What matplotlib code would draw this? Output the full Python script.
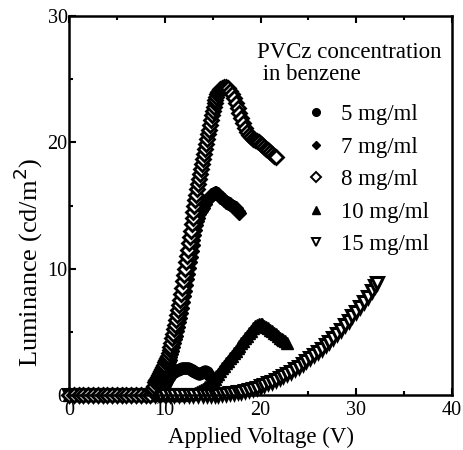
import matplotlib
matplotlib.use("Agg")
import matplotlib.pyplot as plt
from matplotlib.lines import Line2D

plt.rcParams['font.family'] = ['Liberation Serif', 'DejaVu Serif']

# ---------------- data ----------------
flat_v = [0.0, 0.5, 1.0, 1.5, 2.0, 2.5, 3.0, 3.5, 4.0, 4.5, 5.0, 5.5, 6.0, 6.5, 7.0, 7.5, 8.0, 8.5]
flat_l = [0.0, 0.0, 0.0, 0.0, 0.0, 0.0, 0.0, 0.0, 0.0, 0.0, 0.0, 0.0, 0.0, 0.0, 0.0, 0.0, 0.0, 0.0]

# 5 mg/ml (filled circles)
v5 = flat_v + [9.0, 9.5, 9.7, 9.8, 9.9, 10.0, 10.1, 10.2, 10.3, 10.4, 10.5, 10.6, 10.8, 11.0, 11.2,
               11.4, 11.6, 11.8, 12.0, 12.2, 12.4, 12.6, 12.8, 13.0, 13.2, 13.4, 13.6, 13.8, 14.0,
               14.2, 14.4, 14.6]
l5 = flat_l + [0.0, 0.05, 0.2, 0.4, 0.6, 0.8, 0.95, 1.1, 1.25, 1.4, 1.5, 1.6, 1.75, 1.85, 1.95,
               2.0, 2.05, 2.1, 2.15, 2.15, 2.1, 2.05, 2.0, 1.9, 1.8, 1.75, 1.7, 1.75, 1.85,
               1.9, 1.85, 1.6]

# 7 mg/ml (filled diamonds)
v7 = flat_v + [9.0, 9.1, 9.2, 9.3, 9.4, 9.5, 9.6, 9.7, 9.8, 9.9, 10.0, 10.1, 10.2, 10.3, 10.4,
               10.5, 10.6, 10.7, 10.8, 10.9, 11.0, 11.1, 11.2, 11.3, 11.4, 11.5, 11.6, 11.7, 11.8,
               11.9, 12.0, 12.1, 12.2, 12.3, 12.4, 12.5, 12.6, 12.7, 12.8, 12.9, 13.0, 13.1, 13.2,
               13.3, 13.4, 13.5, 13.6, 13.7, 13.8, 13.9, 14.0, 14.2, 14.4, 14.6, 14.8, 15.0, 15.2,
               15.4, 15.6, 15.8, 16.0, 16.2, 16.4, 16.6, 16.8, 17.0, 17.2, 17.4, 17.6, 17.8]
l7 = flat_l + [0.3, 0.45, 0.6, 0.8, 1.0, 1.15, 1.3, 1.45, 1.6, 1.75, 1.9, 2.1, 2.3, 2.45, 2.6,
               2.8, 3.0, 3.25, 3.5, 3.8, 4.1, 4.4, 4.7, 5.05, 5.4, 5.75, 6.1, 6.5, 6.9,
               7.35, 7.8, 8.25, 8.7, 9.15, 9.6, 10.05, 10.5, 10.95, 11.4, 11.85, 12.3, 12.7, 13.1,
               13.45, 13.8, 14.05, 14.3, 14.45, 14.6, 14.7, 14.8, 15.1, 15.4, 15.6, 15.8, 15.9, 16.0,
               16.0, 15.9, 15.7, 15.6, 15.4, 15.3, 15.2, 15.1, 15.0, 14.9, 14.8, 14.6, 14.4]

# 8 mg/ml (open diamonds)
v8 = flat_v + [8.7, 8.8, 8.9, 9.0, 9.1, 9.2, 9.3, 9.4, 9.5, 9.6, 9.7, 9.8, 9.9, 10.0, 10.1,
               10.2, 10.3, 10.4, 10.5, 10.6, 10.7, 10.8, 10.9, 11.0, 11.1, 11.2, 11.3, 11.4, 11.5,
               11.6, 11.7, 11.8, 11.9, 12.0, 12.1, 12.2, 12.3, 12.4, 12.5, 12.6, 12.7, 12.8, 12.9,
               13.0, 13.1, 13.2, 13.3, 13.4, 13.5, 13.6, 13.7, 13.8, 13.9, 14.0, 14.1, 14.2, 14.3,
               14.4, 14.5, 14.6, 14.7, 14.8, 14.9, 15.0, 15.1, 15.2, 15.3, 15.4, 15.5, 15.6, 15.7,
               15.8, 16.0, 16.2, 16.4, 16.6, 16.8, 17.0, 17.2, 17.4, 17.6, 17.8, 18.0, 18.2, 18.4,
               18.6, 18.8, 19.0, 19.2, 19.4, 19.6, 19.8, 20.0, 20.2, 20.4, 20.6, 20.8, 21.0, 21.2,
               21.4, 21.6]
l8 = flat_l + [0.3, 0.5, 0.75, 1.0, 1.15, 1.3, 1.45, 1.6, 1.75, 1.9, 2.05, 2.2, 2.4, 2.6, 2.75,
               2.9, 3.1, 3.3, 3.55, 3.8, 4.15, 4.5, 4.85, 5.2, 5.55, 5.9, 6.3, 6.7, 7.1,
               7.5, 8.0, 8.5, 9.0, 9.5, 10.0, 10.5, 11.0, 11.5, 12.0, 12.5, 13.0, 13.5, 14.0,
               14.5, 14.95, 15.4, 15.85, 16.3, 16.7, 17.1, 17.5, 17.9, 18.3, 18.7, 19.1, 19.5, 19.9,
               20.3, 20.65, 21.0, 21.4, 21.8, 22.15, 22.5, 22.8, 23.1, 23.35, 23.6, 23.8, 24.0, 24.1,
               24.2, 24.3, 24.4, 24.4, 24.3, 24.1, 23.8, 23.5, 23.1, 22.7, 22.3, 21.9, 21.5, 21.1,
               20.8, 20.6, 20.4, 20.3, 20.2, 20.1, 20.0, 19.9, 19.8, 19.6, 19.5, 19.4, 19.2, 19.1,
               18.9, 18.8]

# 10 mg/ml (filled triangles)
v10 = flat_v + [9.0, 9.5, 10.0, 10.5, 11.0, 11.5, 12.0, 12.5, 13.0, 13.2, 13.4, 13.6, 13.8, 14.0,
                14.2, 14.4, 14.6, 14.8, 15.0, 15.2, 15.4, 15.6, 15.8, 16.0, 16.2, 16.4, 16.6, 16.8,
                17.0, 17.2, 17.4, 17.6, 17.8, 18.0, 18.2, 18.4, 18.6, 18.8, 19.0, 19.2, 19.4, 19.6,
                19.8, 20.0, 20.2, 20.4, 20.6, 20.8, 21.0, 21.2, 21.4, 21.6, 21.8, 22.0, 22.2, 22.4,
                22.6, 22.8]
l10 = flat_l + [0.0, 0.0, 0.0, 0.0, 0.0, 0.0, 0.0, 0.05, 0.1, 0.15, 0.2, 0.3, 0.4, 0.5,
                0.6, 0.7, 0.85, 1.0, 1.15, 1.3, 1.5, 1.7, 1.9, 2.1, 2.3, 2.5, 2.7, 2.9,
                3.1, 3.3, 3.5, 3.7, 3.9, 4.1, 4.3, 4.5, 4.7, 4.9, 5.1, 5.3, 5.45, 5.55,
                5.6, 5.65, 5.6, 5.5, 5.4, 5.3, 5.15, 5.05, 4.9, 4.8, 4.65, 4.55, 4.45, 4.35,
                4.25, 4.15]

# 15 mg/ml (open inverted triangles)
v15 = flat_v + [9.0, 9.5, 10.0, 10.5, 11.0, 11.5, 12.0, 12.5, 13.0, 13.5, 14.0, 14.4, 14.8, 15.2,
                15.6, 16.0, 16.4, 16.8, 17.2, 17.6, 18.0, 18.4, 18.8, 19.2, 19.6, 20.0, 20.4, 20.8,
                21.2, 21.6, 22.0, 22.4, 22.8, 23.2, 23.6, 24.0, 24.4, 24.8, 25.2, 25.6, 26.0, 26.4,
                26.8, 27.2, 27.6, 28.0, 28.4, 28.8, 29.2, 29.6, 30.0, 30.4, 30.8, 31.2, 31.6, 32.0,
                32.2]
l15 = flat_l + [0.0, 0.0, 0.0, 0.0, 0.0, 0.0, 0.0, 0.0, 0.0, 0.0, 0.0, 0.0, 0.01, 0.02,
                0.03, 0.06, 0.08, 0.12, 0.16, 0.21, 0.27, 0.34, 0.41, 0.50, 0.59, 0.69, 0.80, 0.92,
                1.05, 1.19, 1.34, 1.50, 1.67, 1.84, 2.03, 2.23, 2.45, 2.67, 2.90, 3.14, 3.40, 3.67,
                3.94, 4.23, 4.53, 4.85, 5.17, 5.51, 5.85, 6.22, 6.59, 6.98, 7.37, 7.78, 8.21, 8.64,
                8.85]

labels = ['5 mg/ml', '7 mg/ml', '8 mg/ml', '10 mg/ml', '15 mg/ml']
title_line1 = 'PVCz concentration'
title_line2 = ' in benzene'

# ---------------- figure ----------------
fig = plt.figure(figsize=(4.64, 4.5), dpi=100)
ax = fig.add_axes([69 / 464, 1 - 395 / 450, (452 - 69) / 464, (395 - 16) / 450])

common = dict(linestyle='none', color='black', clip_on=False)
ax.plot(v5, l5, marker='o', markersize=8, markerfacecolor='black', markeredgecolor='black', **common)
ax.plot(v7, l7, marker='D', markersize=6.8, markerfacecolor='black', markeredgecolor='black', **common)
ax.plot(v10, l10, marker='^', markersize=8.5, markerfacecolor='black', markeredgecolor='black', **common)
ax.plot(v15, l15, marker='v', markersize=8.5, markerfacecolor='white', markeredgecolor='black',
        markeredgewidth=2.2, **common)
ax.plot(v8, l8, marker='D', markersize=6.8, markerfacecolor='white', markeredgecolor='black',
        markeredgewidth=2.0, **common)

ax.set_xlim(0, 40)
ax.set_ylim(0, 30)
ax.set_xticks([0, 10, 20, 30, 40])
ax.set_yticks([0, 10, 20, 30])
ax.set_xticks([5, 15, 25, 35], minor=True)
ax.set_yticks([5, 15, 25], minor=True)
ax.tick_params(which='both', direction='in', top=True, right=False, labelsize=14.5, width=1.5)
ax.tick_params(axis='x', which='major', pad=4)
ax.tick_params(axis='y', which='major', pad=1)
ax.tick_params(which='major', length=5)
ax.tick_params(which='minor', length=3)
for s in ax.spines.values():
    s.set_linewidth(1.8)

ax.set_xlabel('Applied Voltage (V)', fontsize=16.5, labelpad=5)
ax.set_ylabel('Luminance (cd/m$^2$)', fontsize=19)
ax.yaxis.set_label_coords(-0.062, (395 - 262) / 379)

fig.text(257 / 464, 1 - 58 / 450, title_line1, fontsize=16.5, va='baseline', ha='left')
fig.text(257 / 464, 1 - 80 / 450, title_line2, fontsize=16.5, va='baseline', ha='left')

# legend symbols (same marker styles, legend-sized)
leg_handles = [
    Line2D([], [], linestyle='none', marker='o', markersize=5.5, markerfacecolor='black', markeredgecolor='black'),
    Line2D([], [], linestyle='none', marker='D', markersize=4.5, markerfacecolor='black', markeredgecolor='black'),
    Line2D([], [], linestyle='none', marker='D', markersize=4.8, markerfacecolor='white', markeredgecolor='black',
           markeredgewidth=1.4),
    Line2D([], [], linestyle='none', marker='^', markersize=6, markerfacecolor='black', markeredgecolor='black'),
    Line2D([], [], linestyle='none', marker='v', markersize=6, markerfacecolor='white', markeredgecolor='black',
           markeredgewidth=1.4),
]
leg = ax.legend(leg_handles, labels, loc='upper left',
                bbox_to_anchor=(305 / 464, 1 - 104 / 450), bbox_transform=fig.transFigure,
                frameon=False, fontsize=16.5, handlelength=1.0, handletextpad=0.55,
                labelspacing=0.5, borderpad=0, borderaxespad=0, numpoints=1)

fig.savefig('out.png', dpi=100)
